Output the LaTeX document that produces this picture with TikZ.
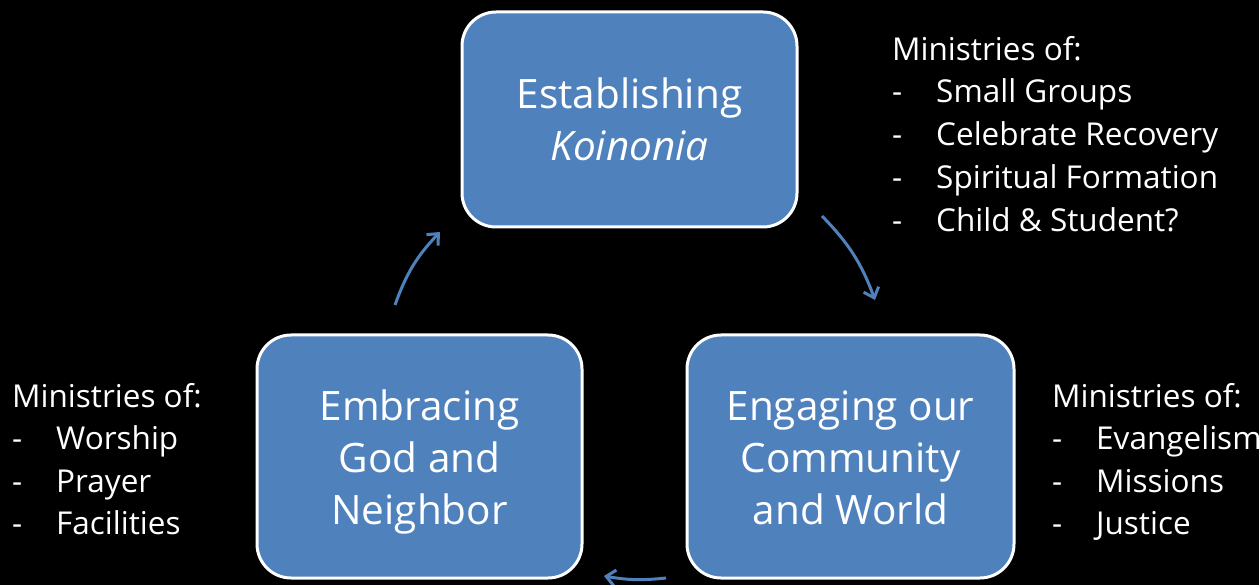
\documentclass[tikz,border=0pt]{standalone}
\usepackage{fontspec}
\setmainfont{Open Sans}
\usetikzlibrary{arrows.meta}
\definecolor{boxblue}{HTML}{4F81BD}
\begin{document}
\begin{tikzpicture}[x=1pt,y=-1pt,
  stagebox/.style={draw=white,line width=3pt,fill=boxblue,rounded corners=34pt,inner sep=0pt},
  stagetext/.style={text=white,align=center,font=\fontsize{40.5}{52}\selectfont,inner sep=0pt},
  cyclearrow/.style={draw=boxblue,line width=3pt,-{Straight Barb[length=9pt,width=16pt]}},
  listtext/.style={text=white,anchor=base west,font=\fontsize{31.5}{43}\selectfont,inner sep=0pt}]
\useasboundingbox[fill=black] (0,0) rectangle (1259,585);
\node[stagebox,minimum width=335pt,minimum height=215pt] (top) at (629.5,119.5) {};
\node[stagebox,minimum width=325pt,minimum height=243pt] (left) at (419.5,456.5) {};
\node[stagebox,minimum width=327pt,minimum height=243pt] (right) at (850.5,456.5) {};
\node[stagetext] (toptext) at (top.center) {Establishing\\\textit{Koinonia}};
\node[stagetext] (lefttext) at ([yshift=-5pt]left.center) {Embracing\\God and\\Neighbor};
\node[stagetext] (righttext) at ([yshift=-1.5pt]right.center) {Engaging our\\Community\\and World};
\coordinate (a1s) at (395,305); \coordinate (a1e) at (440,232);
\coordinate (a2s) at (822,216); \coordinate (a2e) at (875,300);
\coordinate (a3s) at (666,578); \coordinate (a3e) at (604,576);
\draw[cyclearrow] (a1s) to[bend left=12] (a1e);
\draw[cyclearrow] (a2s) to[bend left=12] (a2e);
\draw[cyclearrow] (a3s) to[bend left=8] (a3e);
\newcommand{\dashitem}[1]{\makebox[44pt][l]{-}#1}
\node[listtext] (tr0) at (892,61) {Ministries of:};
\node[listtext] (tr1) at (892,103) {\dashitem{Small Groups}};
\node[listtext] (tr2) at (892,146) {\dashitem{Celebrate Recovery}};
\node[listtext] (tr3) at (892,189) {\dashitem{Spiritual Formation}};
\node[listtext] (tr4) at (892,232) {\dashitem{Child \& Student?}};
\node[listtext] (l0) at (12,407) {Ministries of:};
\node[listtext] (l1) at (12,449) {\dashitem{Worship}};
\node[listtext] (l2) at (12,492) {\dashitem{Prayer}};
\node[listtext] (l3) at (12,534) {\dashitem{Facilities}};
\node[listtext] (r0) at (1052,407) {Ministries of:};
\node[listtext] (r1) at (1052,449) {\dashitem{Evangelism}};
\node[listtext] (r2) at (1052,492) {\dashitem{Missions}};
\node[listtext] (r3) at (1052,534) {\dashitem{Justice}};
\end{tikzpicture}
\end{document}
